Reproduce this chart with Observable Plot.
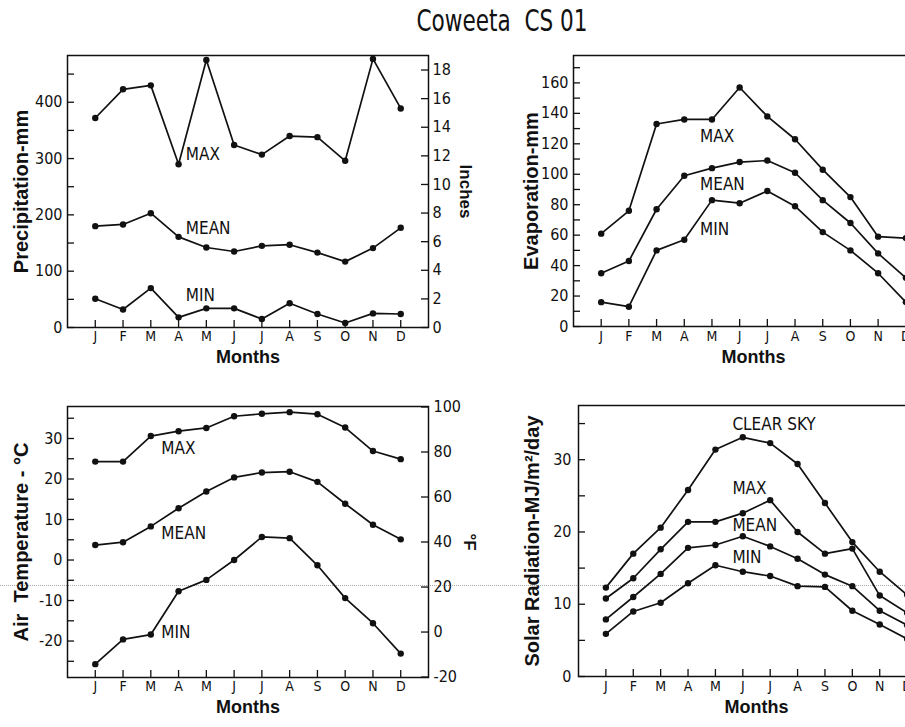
<!DOCTYPE html>
<html>
<head>
<meta charset="utf-8">
<script src="https://cdn.jsdelivr.net/npm/d3@7"></script>
<script src="https://cdn.jsdelivr.net/npm/@observablehq/plot@0.6"></script>
<style>
  html, body { margin: 0; padding: 0; background: #fff; }
  body { width: 905px; height: 727px; overflow: hidden; position: relative; }
  .panel { position: absolute; }
  .panel svg { overflow: visible; background: transparent; max-width: none !important; display: block; }
  #title { position: absolute; top: 3px; left: 502px; transform: translateX(-50%) scaleX(0.8);
    font-family: 'Liberation Sans Narrow','DejaVu Sans Condensed',sans-serif; font-size: 30px; color: #111; white-space: nowrap; }
  #scanline { position: absolute; left: 0; top: 585px; width: 905px; border-top: 1px dotted #aaa; }
</style>
</head>
<body>
<div id="title">Coweeta&nbsp; CS 01</div>
<div id="scanline"></div>
<div id="tl" class="panel" style="left:0px;top:40px;width:470px;height:330px"></div>
<div id="tr" class="panel" style="left:470px;top:40px;width:480px;height:330px"></div>
<div id="bl" class="panel" style="left:0px;top:390px;width:470px;height:337px"></div>
<div id="br" class="panel" style="left:470px;top:390px;width:480px;height:337px"></div>
<script>
// ---------- data ----------
const months = ["J","F","M","A","M","J","J","A","S","O","N","D"];
const monthIdx = [1,2,3,4,5,6,7,8,9,10,11,12];

const precipMax  = [372,423,430,290,475,324,307,340,338,296,477,389];
const precipMean = [180,183,203,161,142,135,145,147,133,117,141,177];
const precipMin  = [51,32,70,18,34,34,15,43,24,8,25,24];

const evapMax  = [61,76,133,136,136,157,138,123,103,85,59,58];
const evapMean = [35,43,77,99,104,108,109,101,83,68,48,32];
const evapMin  = [16,13,50,57,83,81,89,79,62,50,35,16];

const tempMax  = [24.3,24.3,30.6,31.8,32.6,35.5,36.1,36.5,36.0,32.7,26.9,24.9];
const tempMean = [3.7,4.4,8.3,12.8,16.9,20.4,21.6,21.8,19.3,13.9,8.7,5.1];
const tempMin  = [-25.7,-19.6,-18.4,-7.7,-4.9,0,5.7,5.4,-1.3,-9.4,-15.6,-23.1];

const solarClear = [12.3,17.0,20.6,25.8,31.4,33.1,32.3,29.4,24.0,18.6,14.5,11.3];
const solarMax   = [10.8,13.6,17.6,21.4,21.4,22.6,24.4,20.0,17.0,17.7,11.2,8.8];
const solarMean  = [7.9,11.0,14.2,17.8,18.2,19.4,18.0,16.3,14.1,12.5,9.1,7.1];
const solarMin   = [5.9,9.0,10.2,12.9,15.4,14.5,13.9,12.5,12.4,9.1,7.2,5.2];

// tick labels / tick positions
const precipTicks = [0,50,100,150,200,250,300,350,400,450];
const precipLabels = [0,100,200,300,400];
const inchTicks = [0,2,4,6,8,10,12,14,16,18];
const evapTicks = [0,10,20,30,40,50,60,70,80,90,100,110,120,130,140,150,160,170];
const evapLabels = [0,20,40,60,80,100,120,140,160];
const tempTicks = [-25,-20,-15,-10,-5,0,5,10,15,20,25,30,35];
const tempLabels = [-20,-10,0,10,20,30];
const fahrTicks = [-20,0,20,40,60,80,100];
const solarTicks = [0,5,10,15,20,25,30,35];
const solarLabels = [0,10,20,30];

// in-panel curve labels (month position, value)
const precipNotes = [{t:"MAX", x:4.26, y:308},{t:"MEAN", x:4.26, y:176},{t:"MIN", x:4.26, y:57}];
const evapNotes   = [{t:"MAX", x:4.57, y:125},{t:"MEAN", x:4.57, y:93},{t:"MIN", x:4.57, y:64}];
const tempNotes   = [{t:"MAX", x:3.38, y:27.5},{t:"MEAN", x:3.38, y:6.6},{t:"MIN", x:3.38, y:-17.8}];
const solarNotes  = [{t:"CLEAR SKY", x:5.62, y:34.9},{t:"MAX", x:5.62, y:26.0},{t:"MEAN", x:5.62, y:20.9},{t:"MIN", x:5.62, y:16.5}];

// ---------- drawing ----------
const NARROW = "'Liberation Sans Narrow','DejaVu Sans Condensed',sans-serif";
const BOLD = "'Liberation Sans',Arial,'DejaVu Sans',sans-serif";
const INK = "#111";

function rows(series) {
  const out = [];
  for (const [name, vals] of series) vals.forEach((v, i) => out.push({s: name, m: monthIdx[i], v}));
  return out;
}

function panel(o) {
  const fw = o.width - o.ml - o.mr, fh = o.height - o.mt - o.mb;
  const data = rows(o.series);
  const marks = [
    Plot.frame({stroke: INK, strokeWidth: 1.5}),
    Plot.tickY(o.yTicks, {y: d => d, insetRight: fw - 7, stroke: INK, strokeWidth: 1.3}),
    Plot.text(o.yLabels, {y: d => d, text: d => String(d), frameAnchor: "left", dx: o.yLabelDx, textAnchor: "end", fontSize: 16, fill: INK}),
    Plot.tickX(monthIdx, {x: d => d, insetTop: fh - 7, stroke: INK, strokeWidth: 1.3}),
    Plot.text(monthIdx, {x: d => d, text: i => months[i - 1], frameAnchor: "bottom", dy: o.monthDy, textAnchor: "middle", fontSize: 14, fill: INK}),
    Plot.text(["Months"], {text: d => d, frameAnchor: "bottom", dy: o.monthsDy, textAnchor: "middle", fontSize: 18, fontWeight: "bold", fontFamily: BOLD, fill: INK}),
    Plot.text([o.yTitle], {text: d => d, frameAnchor: "left", dx: o.yTitleDx, textAnchor: "middle", rotate: -90, fontSize: 20, fontWeight: "bold", fontFamily: BOLD, fill: INK}),
    Plot.line(data, {x: "m", y: "v", z: "s", stroke: INK, strokeWidth: 1.7}),
    Plot.dot(data, {x: "m", y: "v", r: 3.2, fill: INK, stroke: "none"}),
    Plot.text(o.notes, {x: "x", y: "y", text: "t", textAnchor: "start", fontSize: 17, fill: INK})
  ];
  if (o.rTicks) {
    marks.push(
      Plot.tickY(o.rTicks, {y: o.rToY, insetLeft: fw - 7, stroke: INK, strokeWidth: 1.3}),
      Plot.text(o.rTicks, {y: o.rToY, text: d => String(d), frameAnchor: "right", dx: o.rLabelDx, textAnchor: "start", fontSize: 16, fill: INK}),
      Plot.text([o.rTitle], {text: d => d, frameAnchor: "right", dx: o.rTitleDx, textAnchor: "middle", rotate: 90, fontSize: 17, fontWeight: "bold", fontFamily: BOLD, fill: INK})
    );
  }
  return Plot.plot({
    width: o.width, height: o.height,
    marginLeft: o.ml, marginRight: o.mr, marginTop: o.mt, marginBottom: o.mb,
    x: {type: "linear", domain: [0, 13], axis: null},
    y: {type: "linear", domain: o.yDomain, axis: null},
    style: {fontFamily: NARROW, background: "transparent", overflow: "visible", color: INK, maxWidth: "none"},
    marks
  });
}

document.getElementById("tl").append(panel({
  width: 470, height: 330, ml: 67, mr: 42, mt: 15, mb: 43,
  yDomain: [0, 483], yTicks: precipTicks, yLabels: precipLabels, yLabelDx: -5,
  monthDy: 13, monthsDy: 35, yTitle: "Precipitation-mm", yTitleDx: -46,
  series: [["max", precipMax], ["mean", precipMean], ["min", precipMin]],
  notes: precipNotes,
  rTicks: inchTicks, rToY: d => d * 25.4, rLabelDx: 4, rTitle: "Inches", rTitleDx: 37
}));

document.getElementById("tr").append(panel({
  width: 480, height: 330, ml: 103, mr: 17, mt: 15, mb: 44,
  yDomain: [0, 178], yTicks: evapTicks, yLabels: evapLabels, yLabelDx: -5,
  monthDy: 14, monthsDy: 36, yTitle: "Evaporation-mm", yTitleDx: -42,
  series: [["max", evapMax], ["mean", evapMean], ["min", evapMin]],
  notes: evapNotes
}));

document.getElementById("bl").append(panel({
  width: 470, height: 337, ml: 67, mr: 42, mt: 16, mb: 50,
  yDomain: [-29, 37.9], yTicks: tempTicks, yLabels: tempLabels, yLabelDx: -5,
  monthDy: 13, monthsDy: 35, yTitle: "Air  Temperature - °C", yTitleDx: -46,
  series: [["max", tempMax], ["mean", tempMean], ["min", tempMin]],
  notes: tempNotes,
  rTicks: fahrTicks, rToY: d => (d - 32) * 5 / 9, rLabelDx: 5, rTitle: "°F", rTitleDx: 41
}));

document.getElementById("br").append(panel({
  width: 480, height: 337, ml: 108, mr: 16, mt: 15, mb: 51,
  yDomain: [0, 37.5], yTicks: solarTicks, yLabels: solarLabels, yLabelDx: -7,
  monthDy: 14, monthsDy: 36, yTitle: "Solar Radiation-MJ/m²/day", yTitleDx: -46,
  series: [["clear", solarClear], ["max", solarMax], ["mean", solarMean], ["min", solarMin]],
  notes: solarNotes
}));
</script>
</body>
</html>
